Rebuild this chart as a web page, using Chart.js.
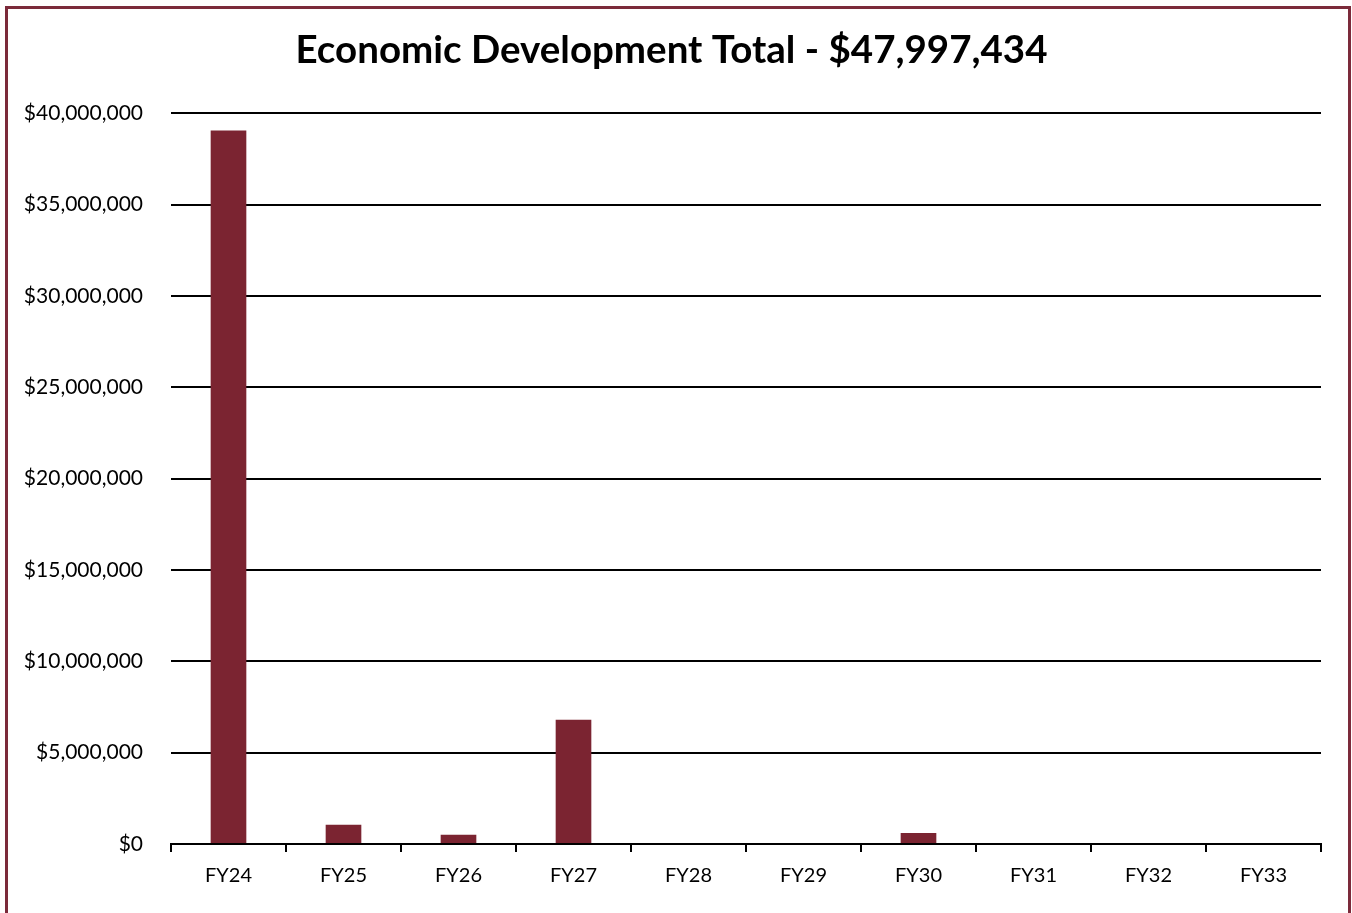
<!DOCTYPE html>
<html>
<head>
<meta charset="utf-8">
<script src="https://cdn.jsdelivr.net/npm/chart.js@4"></script>
<style>
  body { margin: 0; background: #fff; }
  #wrap { position: relative; width: 1352px; height: 913px; overflow: hidden; }
  #frame { position: absolute; left: 5px; top: 6px; width: 1340px; height: 920px;
           border: 3px solid #7b2a3a; pointer-events: none; }
  canvas { position: absolute; left: 0; top: 0; }
</style>
</head>
<body>
<div id="wrap">
  <canvas id="chart" width="1352" height="913"></canvas>
  <div id="frame"></div>
</div>
<script>
const categories = ["FY24", "FY25", "FY26", "FY27", "FY28", "FY29", "FY30", "FY31", "FY32", "FY33"];
const amounts = [39050000, 1050000, 500000, 6800000, 0, 0, 600000, 0, 0, 0];
const titleText = "Economic Development Total - $47,997,434";

function money(v) {
  return "$" + v.toString().replace(/\B(?=(\d{3})+(?!\d))/g, ",");
}

let ctx = document.getElementById("chart");
new Chart(ctx, {
  type: "bar",
  data: {
    labels: categories,
    datasets: [{
      data: amounts,
      backgroundColor: "#7b2431",
      borderWidth: 0,
      barPercentage: 0.31,
      categoryPercentage: 1
    }]
  },
  options: {
    responsive: false,
    animation: false,
    layout: { padding: { left: 22, right: 31, top: 27, bottom: 13 } },
    plugins: {
      legend: { display: false },
      tooltip: { enabled: false },
      title: {
        display: true,
        text: titleText,
        color: "#000",
        font: { family: "Lato", size: 38.5, weight: "bold" },
        padding: { top: 0, bottom: 40 }
      }
    },
    scales: {
      x: {
        offset: true,
        grid: { offset: true, drawOnChartArea: false, color: "#000", tickLength: 8, lineWidth: 2 },
        border: { color: "#000", width: 2 },
        ticks: { color: "#000", padding: 12, font: { family: "Lato", size: 20 } }
      },
      y: {
        min: 0,
        max: 40000000,
        afterFit: function (scale) { scale.width = 149; },
        grid: { color: "#000", lineWidth: 2, drawTicks: false },
        border: { display: false },
        ticks: {
          stepSize: 5000000,
          color: "#000",
          padding: 28,
          font: { family: "Lato", size: 21 },
          callback: function (v) { return money(v); }
        }
      }
    }
  }
});
</script>
</body>
</html>
